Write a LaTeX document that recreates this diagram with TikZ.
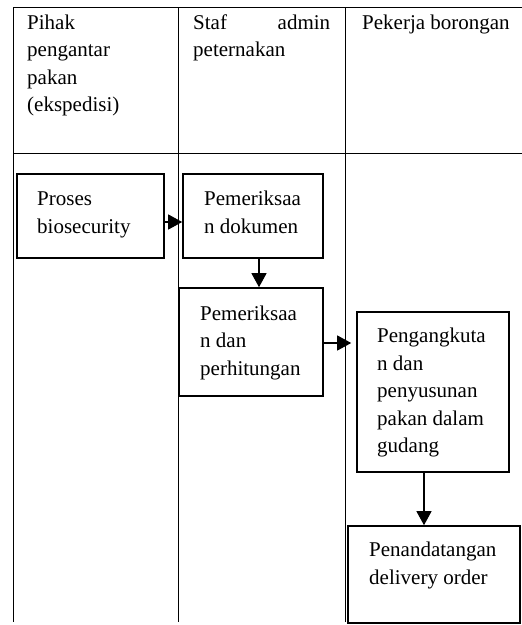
\documentclass[tikz,border=0pt]{standalone}
\usepackage{fontspec}
\setmainfont{Liberation Serif}
\usetikzlibrary{arrows.meta}
\newcommand\lns[1]{\vtop{\baselineskip=27.5pt\lineskiplimit=-20pt\halign{##\hfil\cr#1\crcr}}}
\begin{document}
\begin{tikzpicture}[x=1pt,y=-1pt,
  txt/.style={anchor=base west,inner sep=0pt,font=\fontsize{21}{27.5}\selectfont},
  box/.style={draw,line width=1.6pt,inner sep=0pt},
  grid/.style={line width=0.9pt},
  arr/.style={line width=1.2pt,-{Triangle[length=14pt,width=15pt]}}]
\useasboundingbox (0,0) rectangle (522,625);
% table
\coordinate (tl) at (13,7);
\coordinate (tr) at (522,7);
\coordinate (ml) at (13,153);
\coordinate (mr) at (522,153);
\coordinate (c1t) at (178,7);
\coordinate (c1b) at (178,622);
\coordinate (c2t) at (345,7);
\coordinate (c2b) at (345,622);
\coordinate (bl) at (13,622);
\draw[grid] (tl) -- (tr);
\draw[grid] (ml) -- (mr);
\draw[grid] (tl) -- (bl);
\draw[grid] (c1t) -- (c1b);
\draw[grid] (c2t) -- (c2b);
% headers
\node[txt] (h1) at (27,29) {\lns{Pihak\cr pengantar\cr pakan\cr (ekspedisi)}};
\node[txt] (h2) at (193,29) {\lns{\hbox to 137pt{Staf\hfill admin}\cr peternakan}};
\node[txt] (h3) at (362,29) {Pekerja borongan};
% boxes
\node[box,minimum width=147pt,minimum height=84pt] (b1) at (90.5,216) {};
\node[box,minimum width=140pt,minimum height=84pt] (b2) at (253,216) {};
\node[box,minimum width=144pt,minimum height=108pt] (b3) at (251,342) {};
\node[box,minimum width=152pt,minimum height=160pt] (b4) at (433,392) {};
\node[box,minimum width=172pt,minimum height=97pt] (b5) at (434,574.5) {};
% box texts
\node[txt] (t1) at (37,205.5) {\lns{Proses\cr biosecurity}};
\node[txt] (t2) at (204,205.5) {\lns{Pemeriksaa\cr n dokumen}};
\node[txt] (t3) at (200,320) {\lns{Pemeriksaa\cr n dan\cr perhitungan}};
\node[txt] (t4) at (377,342.5) {\lns{Pengangkuta\cr n dan\cr penyusunan\cr pakan dalam\cr gudang}};
\node[txt] (t5) at (369,556.5) {\lns{Penandatangan\cr delivery order}};
% arrows
\draw[arr] ([yshift=-6pt]b1.east) -- ([yshift=-6pt]b2.west);
\draw[arr] ([xshift=6pt]b2.south) -- ([xshift=8pt]b3.north);
\draw[arr,shorten >=5pt] ([yshift=-1pt]b3.east) -- ([yshift=-1pt]b3.east -| b4.west);
\draw[arr] ([xshift=-9pt]b4.south) -- ([xshift=-10pt]b5.north);
\end{tikzpicture}
\end{document}
